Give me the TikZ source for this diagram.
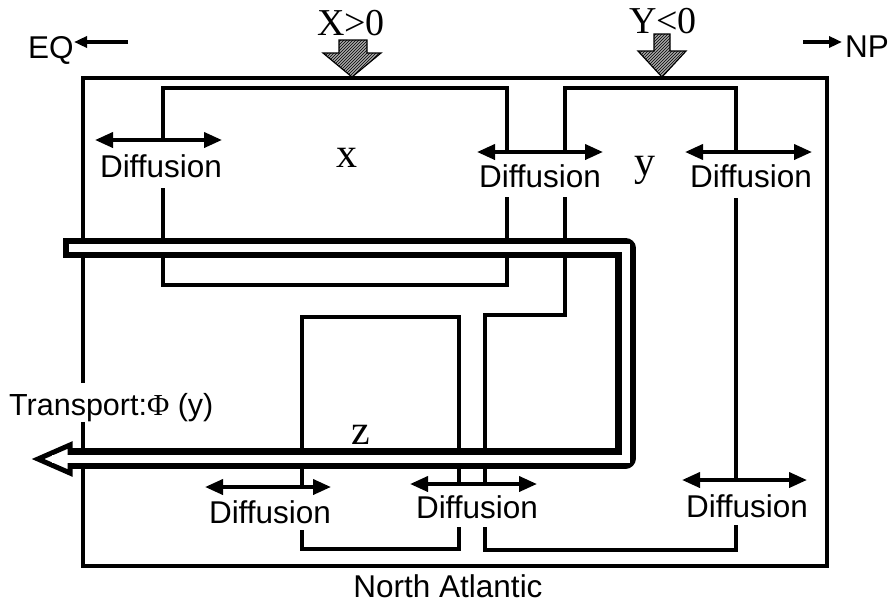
\documentclass[tikz,border=0pt]{standalone}
\usepackage{fontspec}
\setmainfont{Liberation Sans}
\newfontfamily\serif{Liberation Serif}
\usetikzlibrary{arrows.meta,patterns}
\begin{document}
\begin{tikzpicture}[x=1pt,y=-1pt,
  boxline/.style={line width=4pt},
  outerline/.style={line width=4.8pt},
  diff/.style={line width=3.8pt,{Triangle[length=18pt,width=15pt]}-{Triangle[length=18pt,width=15pt]}},
  lab/.style={font=\fontsize{31.5}{36}\selectfont, inner sep=0pt, anchor=base},
  var/.style={font=\serif\fontsize{42}{46}\selectfont, inner sep=0pt},
  flux/.style={font=\serif\fontsize{38}{40}\selectfont, inner sep=0pt},
  hatch/.style={draw=black, line width=1.2pt, fill=gray!70, postaction={pattern=north east lines}},
  dir/.style={line width=4pt, -{Triangle[length=13pt,width=11pt]}}
]
\useasboundingbox (0,0) rectangle (896,603);

% outer box (left side interrupted by the transport label)
\draw[outerline] (83,383) -- (83,78) -- (827,78) -- (827,566) -- (83,566) -- (83,422);

% box x
\draw[boxline] (163,140) -- (163,88) -- (507,88) -- (507,152);
\draw[boxline] (163,188) -- (163,285) -- (507,285) -- (507,197);
% box y
\draw[boxline] (565,152) -- (565,88) -- (736,88) -- (736,152);
\draw[boxline] (736,198) -- (736,480);
\draw[boxline] (736,525) -- (736,550) -- (485,550) -- (485,527);
\draw[boxline] (485,484) -- (485,315) -- (565,315) -- (565,197);
% box z
\draw[boxline] (302,487) -- (302,317) -- (459,317) -- (459,484);
\draw[boxline] (302,530) -- (302,549) -- (459,549) -- (459,527);

% transport tube
\draw[line width=5pt, fill=white, line join=miter] (70,445) -- (38,459) -- (70,473) -- cycle;
\draw[line width=20.5pt, line join=round] (63,248) -- (625.5,248) -- (625.5,458.5) -- (70,458.5);
\draw[white, line width=8pt] (68.5,248) -- (625.5,248) -- (625.5,458.5) -- (52,458.5);

% diffusion arrows
\coordinate (d1a) at (95,140);  \coordinate (d1b) at (222,140);
\coordinate (d2a) at (477,152); \coordinate (d2b) at (603,152);
\coordinate (d3a) at (685,152); \coordinate (d3b) at (812,152);
\coordinate (d4a) at (205,487); \coordinate (d4b) at (331,487);
\coordinate (d5a) at (410,484); \coordinate (d5b) at (537,484);
\coordinate (d6a) at (682,480); \coordinate (d6b) at (807,480);
\draw[diff] (d1a) -- (d1b);
\draw[diff] (d2a) -- (d2b);
\draw[diff] (d3a) -- (d3b);
\draw[diff] (d4a) -- (d4b);
\draw[diff] (d5a) -- (d5b);
\draw[diff] (d6a) -- (d6b);

\node[lab] (t1) at (161,177) {Diffusion};
\node[lab] (t2) at (540,187) {Diffusion};
\node[lab] (t3) at (751,187) {Diffusion};
\node[lab] (t4) at (270,523) {Diffusion};
\node[lab] (t5) at (477,518) {Diffusion};
\node[lab] (t6) at (747,517) {Diffusion};

% compartment labels
\node[var] (lx) at (347,158) {x};
\node[var] (ly) at (645,170) {y};
\node[var] (lz) at (361,435) {z};

% forcing arrows
\node[flux] (fx) at (351,23) {X>0};
\node[flux] (fy) at (663,21) {Y<0};
\draw[hatch] (339,40) -- (367,40) -- (367,53) -- (381,53) -- (352,77) -- (323,53) -- (339,53) -- cycle;
\draw[hatch] (654,34) -- (670,34) -- (670,51) -- (686,51) -- (662,77) -- (638,51) -- (654,51) -- cycle;

% direction labels
\node[lab, anchor=base west] (eq) at (28,58) {EQ};
\node[lab, anchor=base west] (np) at (845,57) {NP};
\coordinate (eqs) at (128,42); \coordinate (eqe) at (74,42);
\coordinate (nps) at (803,42); \coordinate (npe) at (842,42);
\draw[dir] (eqs) -- (eqe);
\draw[dir] (nps) -- (npe);

% transport label and basin name
\node[lab, anchor=base west, font=\fontsize{30.5}{34}\selectfont] (tr) at (9,415) {Transport:{\serif Φ} (y)};
\node[lab] (na) at (448,597) {North Atlantic};
\end{tikzpicture}
\end{document}
